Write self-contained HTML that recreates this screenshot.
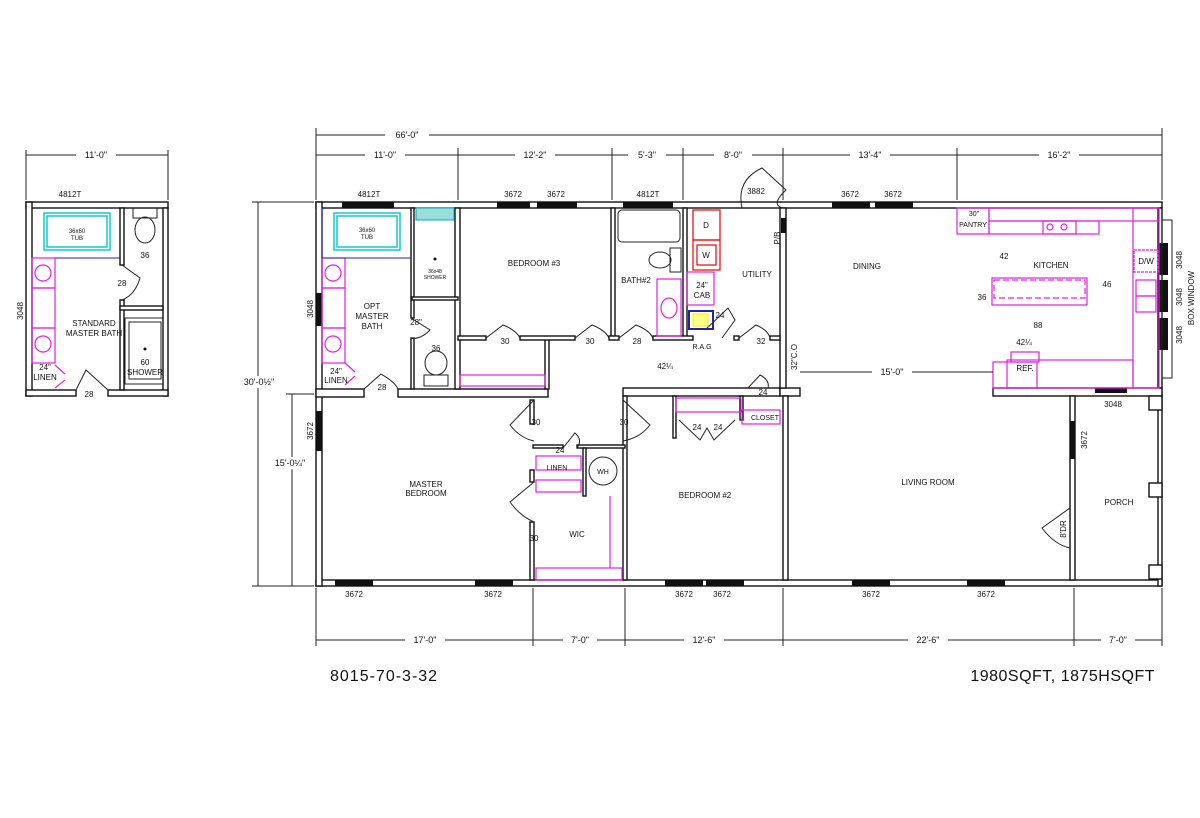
<!DOCTYPE html>
<html><head><style>
body{margin:0;background:#fff}
svg{display:block}
text{font-family:"Liberation Sans",sans-serif;fill:#111}
</style></head><body>
<svg width="1200" height="818" viewBox="0 0 1200 818" xmlns="http://www.w3.org/2000/svg">
<g stroke="#222" stroke-width="1" fill="none">
<line x1="316" y1="135" x2="1162" y2="135"/>
<line x1="316" y1="155" x2="1162" y2="155"/>
<line x1="316" y1="128" x2="316" y2="200"/><line x1="1162" y1="128" x2="1162" y2="200"/>
<line x1="458" y1="148" x2="458" y2="200"/><line x1="612" y1="148" x2="612" y2="200"/>
<line x1="683" y1="148" x2="683" y2="200"/><line x1="783" y1="148" x2="783" y2="200"/>
<line x1="957" y1="148" x2="957" y2="200"/>
<line x1="316" y1="640" x2="1162" y2="640"/>
<line x1="316" y1="588" x2="316" y2="646"/><line x1="533" y1="588" x2="533" y2="646"/>
<line x1="625" y1="588" x2="625" y2="646"/><line x1="783" y1="588" x2="783" y2="646"/>
<line x1="1074" y1="588" x2="1074" y2="646"/><line x1="1162" y1="588" x2="1162" y2="646"/>
<line x1="258" y1="202" x2="258" y2="586"/><line x1="252" y1="202" x2="314" y2="202"/><line x1="252" y1="586" x2="314" y2="586"/>
<line x1="292" y1="394" x2="292" y2="586"/><line x1="286" y1="394" x2="314" y2="394"/>
<line x1="26" y1="155" x2="168" y2="155"/><line x1="26" y1="150" x2="26" y2="200"/><line x1="168" y1="150" x2="168" y2="200"/>
</g>
<g fill="#111" font-size="9" text-anchor="middle">
<rect x="385" y="130" width="44" height="10" fill="#fff"/><text x="407" y="138">66'-0"</text>
<rect x="365" y="150" width="40" height="10" fill="#fff"/><text x="385" y="158">11'-0"</text>
<rect x="515" y="150" width="40" height="10" fill="#fff"/><text x="535" y="158">12'-2"</text>
<rect x="628" y="150" width="38" height="10" fill="#fff"/><text x="647" y="158">5'-3"</text>
<rect x="714" y="150" width="38" height="10" fill="#fff"/><text x="733" y="158">8'-0"</text>
<rect x="850" y="150" width="40" height="10" fill="#fff"/><text x="870" y="158">13'-4"</text>
<rect x="1039" y="150" width="40" height="10" fill="#fff"/><text x="1059" y="158">16'-2"</text>
<rect x="405" y="635" width="40" height="10" fill="#fff"/><text x="425" y="643">17'-0"</text>
<rect x="563" y="635" width="34" height="10" fill="#fff"/><text x="580" y="643">7'-0"</text>
<rect x="684" y="635" width="40" height="10" fill="#fff"/><text x="704" y="643">12'-6"</text>
<rect x="908" y="635" width="40" height="10" fill="#fff"/><text x="928" y="643">22'-6"</text>
<rect x="1101" y="635" width="34" height="10" fill="#fff"/><text x="1118" y="643">7'-0"</text>
<rect x="76" y="150" width="40" height="10" fill="#fff"/><text x="96" y="158">11'-0"</text>
<rect x="232" y="376" width="54" height="12" fill="#fff"/><text x="259" y="385">30'-0½"</text>
<rect x="268" y="457" width="48" height="12" fill="#fff"/><text x="290" y="466">15'-0¼"</text>
</g>

<g fill="#fff" stroke="#111" stroke-width="1.4">
<rect x="316" y="202" width="846" height="6"/>
<rect x="316" y="580" width="846" height="6"/>
<rect x="316" y="202" width="6" height="384"/>
<rect x="1158" y="208" width="4" height="180"/>
<rect x="1158" y="392" width="4" height="194"/>
<rect x="316" y="389" width="48" height="8"/>
<rect x="398" y="389" width="150" height="8"/>
<rect x="623" y="388" width="157" height="8"/>
<rect x="780" y="388" width="20" height="8"/>
<rect x="993" y="388" width="169" height="8"/>
<rect x="455" y="208" width="5" height="181"/>
<rect x="611" y="208" width="4" height="130"/>
<rect x="683" y="208" width="4" height="130"/>
<rect x="780" y="208" width="6" height="180"/>
<rect x="783" y="396" width="5" height="184"/>
<rect x="1070" y="396" width="5" height="184"/>
<rect x="530" y="400" width="4" height="24"/><rect x="530" y="470" width="4" height="12"/><rect x="530" y="522" width="4" height="58"/>
<rect x="623" y="396" width="4" height="184"/>
<rect x="545" y="338" width="4" height="51"/>
<rect x="458" y="336" width="28" height="4"/><rect x="520" y="336" width="55" height="4"/>
<rect x="609" y="336" width="10" height="4"/>
<rect x="653" y="336" width="40" height="4"/>
<rect x="734" y="336" width="5" height="4"/>
<rect x="770" y="336" width="10" height="4"/>
<rect x="411" y="208" width="3" height="110"/>
<rect x="412" y="297" width="46" height="3"/>
<rect x="411" y="338" width="3" height="51"/>
<rect x="533" y="445" width="30" height="3"/><rect x="577" y="445" width="48" height="3"/>
<rect x="583" y="448" width="3" height="48"/>
<rect x="673" y="396" width="3" height="42"/>
<rect x="740" y="396" width="3" height="24"/>
<rect x="1149" y="396" width="13" height="14"/><rect x="1149" y="483" width="13" height="14"/><rect x="1149" y="565" width="13" height="14"/>
</g>
<g fill="none" stroke="#222" stroke-width="1">
<path d="M364 389 L381 374 Q395 382 398 389"/>
<path d="M486 338 L503 325 Q516 330 520 338"/>
<path d="M575 338 L592 325 Q605 330 609 338"/>
<path d="M619 338 L636 325 Q649 330 653 338"/>
<path d="M739 338 L756 325 Q768 330 770 338"/>
<path d="M534 400 L510 425 Q520 438 534 441"/>
<path d="M623 400 L650 425 Q640 438 623 441"/>
<path d="M534 482 L510 502 Q520 516 534 522"/>
<path d="M563 448 L575 433 Q583 440 577 448"/>
<path d="M679 420 L700 440 L707 428 L714 440 L735 420"/>
<path d="M411 318 L430 330 Q420 340 411 338"/>
<path d="M748 388 L760 375 Q770 380 768 388"/>
<path d="M1070 508 L1042 528 Q1055 545 1070 548"/>
<path d="M742 208 Q736 180 762 168 L786 190 Q770 205 783 208"/>
<path d="M705 330 L728 308 L735 320 L722 338"/>
</g>
<g fill="#111">
<rect x="342" y="202" width="52" height="6"/><rect x="497" y="202" width="33" height="6"/><rect x="537" y="202" width="40" height="6"/>
<rect x="623" y="202" width="50" height="6"/><rect x="832" y="202" width="38" height="6"/><rect x="875" y="202" width="38" height="6"/>
<rect x="335" y="580" width="38" height="6"/><rect x="475" y="580" width="38" height="6"/><rect x="665" y="580" width="38" height="6"/>
<rect x="706" y="580" width="38" height="6"/><rect x="852" y="580" width="38" height="6"/><rect x="967" y="580" width="38" height="6"/>
<rect x="316" y="293" width="6" height="33"/><rect x="316" y="411" width="6" height="40"/>
<rect x="1159" y="243" width="9" height="32"/><rect x="1159" y="280" width="9" height="32"/><rect x="1159" y="318" width="9" height="32"/>
<rect x="1095" y="388" width="32" height="5"/><rect x="1070" y="421" width="5" height="38"/>
<rect x="781" y="218" width="5" height="15"/>
<rect x="50" y="202" width="52" height="6"/><rect x="26" y="295" width="6" height="33"/>
<circle cx="435" cy="259" r="1.5"/><circle cx="145" cy="349" r="1.5"/>
</g>
<rect x="1162" y="220" width="10" height="158" fill="none" stroke="#222"/>
<g fill="none" stroke="#e020e0" stroke-width="1.2">
<rect x="322" y="258" width="23" height="30"/><rect x="322" y="288" width="23" height="40"/><rect x="322" y="328" width="23" height="35"/>
<circle cx="333" cy="273" r="8"/><circle cx="333" cy="344" r="8"/>
<path d="M345 363 L355 372 M345 385 L355 376"/>
<rect x="460" y="375" width="85" height="11"/>
<rect x="657" y="279" width="24" height="57"/><ellipse cx="669" cy="308" rx="8" ry="10"/>
<rect x="687" y="272" width="27" height="33"/>
<rect x="536" y="456" width="45" height="14"/><rect x="536" y="480" width="45" height="12"/>
<rect x="536" y="568" width="86" height="12"/><line x1="610" y1="496" x2="610" y2="568"/>
<rect x="676" y="398" width="65" height="14"/><rect x="742" y="410" width="38" height="14"/>
<rect x="957" y="208" width="32" height="26"/><rect x="989" y="208" width="170" height="13"/>
<rect x="989" y="221" width="110" height="13"/><rect x="1133" y="208" width="26" height="180"/>
<rect x="1043" y="221" width="33" height="13"/>
<circle cx="1050" cy="227" r="3"/><circle cx="1064" cy="227" r="3"/>
<rect x="1134" y="250" width="24" height="22" stroke-dasharray="3 1"/>
<rect x="1136" y="280" width="20" height="16"/><rect x="1136" y="296" width="20" height="16"/>
<rect x="992" y="278" width="95" height="27"/><rect x="994" y="280" width="91" height="18" stroke-dasharray="6 3"/>
<rect x="1007" y="360" width="126" height="28"/><rect x="993" y="362" width="44" height="26"/><rect x="1011" y="352" width="28" height="10"/>
</g>
<g fill="none" stroke="#e00" stroke-width="1.2">
<rect x="693" y="210" width="27" height="30"/><rect x="693" y="240" width="27" height="30"/><rect x="697" y="245" width="19" height="20"/>
</g>
<rect x="689" y="311" width="24" height="18" fill="none" stroke="#22a" stroke-width="2"/><rect x="693" y="314" width="15" height="12" fill="#ff8" stroke="#ee0"/>
<g fill="none" stroke="#1cc" stroke-width="1.5">
<rect x="334" y="213" width="66" height="37"/><rect x="337" y="216" width="60" height="31"/>
<rect x="44" y="213" width="66" height="37"/><rect x="47" y="216" width="60" height="31"/>
</g>
<rect x="416" y="208" width="38" height="12" fill="#9dd" stroke="#1aa"/>
<line x1="322" y1="208" x2="322" y2="258" stroke="#22a"/><line x1="322" y1="258" x2="411" y2="258" stroke="#22a"/>
<line x1="32" y1="208" x2="32" y2="258" stroke="#22a"/><line x1="32" y1="258" x2="120" y2="258" stroke="#22a"/>
<g fill="none" stroke="#222">
<rect x="618" y="210" width="62" height="32" rx="4"/><rect x="670" y="248" width="11" height="24"/><ellipse cx="660" cy="260" rx="11" ry="8"/>
<ellipse cx="436" cy="363" rx="11" ry="12"/><rect x="424" y="375" width="24" height="11"/>
<circle cx="603" cy="471" r="14"/>
<rect x="133" y="208" width="24" height="10"/><ellipse cx="145" cy="230" rx="10" ry="13"/>
<rect x="125" y="318" width="38" height="66"/><rect x="129" y="322" width="32" height="57"/>
</g>
<g fill="#fff" stroke="#111" stroke-width="1.4">
<rect x="26" y="202" width="142" height="6"/>
<rect x="26" y="202" width="6" height="194"/>
<rect x="163" y="208" width="5" height="188"/>
<rect x="26" y="390" width="50" height="6"/><rect x="108" y="390" width="60" height="6"/>
<rect x="120" y="208" width="4" height="57"/><rect x="120" y="300" width="4" height="90"/>
<rect x="120" y="306" width="43" height="4"/>
</g>
<g fill="none" stroke="#e020e0" stroke-width="1.2">
<rect x="32" y="258" width="23" height="30"/><rect x="32" y="288" width="23" height="40"/><rect x="32" y="328" width="23" height="35"/>
<circle cx="43" cy="273" r="8"/><circle cx="43" cy="344" r="8"/><path d="M55 365 L65 374 M55 388 L65 380"/>
</g>
<g fill="none" stroke="#222"><path d="M76 390 L86 370 L108 390"/><path d="M122 265 L140 278 Q135 295 122 300"/></g>

<g font-size="8" text-anchor="middle">
<text x="369" y="197">4812T</text><text x="513" y="197">3672</text><text x="556" y="197">3672</text><text x="648" y="197">4812T</text>
<text x="850" y="197">3672</text><text x="893" y="197">3672</text><text x="756" y="194">3882</text>
<text x="354" y="597">3672</text><text x="493" y="597">3672</text><text x="684" y="597">3672</text><text x="722" y="597">3672</text>
<text x="871" y="597">3672</text><text x="986" y="597">3672</text><text x="1113" y="407">3048</text>
<text x="70" y="197">4812T</text>
<text x="534" y="266">BEDROOM  #3</text><text x="636" y="283">BATH#2</text><text x="757" y="277">UTILITY</text>
<text x="867" y="269">DINING</text><text x="1051" y="268">KITCHEN</text>
<text x="372" y="309">OPT</text><text x="372" y="319">MASTER</text><text x="372" y="329">BATH</text>
<text x="426" y="487">MASTER</text><text x="426" y="496">BEDROOM</text>
<text x="705" y="498">BEDROOM  #2</text><text x="928" y="485">LIVING  ROOM</text><text x="1119" y="505">PORCH</text>
<text x="577" y="537">WIC</text><text x="557" y="470" font-size="7">LINEN</text><text x="603" y="474" font-size="7">WH</text>
<text x="765" y="420" font-size="7">CLOSET</text><text x="974" y="216" font-size="7">30"</text><text x="973" y="227" font-size="7">PANTRY</text>
<text x="702" y="288">24"</text><text x="702" y="298">CAB</text><text x="702" y="349" font-size="7">R.A.G</text>
<text x="706" y="228" fill="#e00">D</text><text x="706" y="258" fill="#e00">W</text>
<text x="1025" y="371" fill="#e020e0">REF.</text><text x="1146" y="264" fill="#e020e0">D/W</text>
<text x="505" y="344">30</text><text x="590" y="344">30</text><text x="637" y="344">28</text><text x="761" y="344">32</text>
<text x="382" y="390">28</text><text x="416" y="325">28"</text><text x="436" y="351">36</text>
<text x="536" y="425">30</text><text x="624" y="425">30</text><text x="534" y="541">30</text><text x="560" y="453">24</text>
<text x="697" y="430">24</text><text x="718" y="430">24</text><text x="763" y="395">24</text><text x="720" y="318">24</text>
<text x="665" y="369">42¼</text><text x="1004" y="259">42</text><text x="982" y="300">36</text><text x="1107" y="287">46</text>
<text x="1038" y="328">88</text><text x="1024" y="345">42¼</text>
<text x="367" y="232" font-size="6" fill="#1cc">36x60</text><text x="367" y="239" font-size="6" fill="#1cc">TUB</text>
<text x="77" y="233" font-size="6" fill="#1cc">36x60</text><text x="77" y="240" font-size="6" fill="#1cc">TUB</text>
<text x="435" y="273" font-size="5">36x48</text><text x="435" y="279" font-size="5">SHOWER</text>
<text x="94" y="326">STANDARD</text><text x="94" y="336">MASTER  BATH</text>
<text x="145" y="365">60</text><text x="145" y="375">SHOWER</text><text x="45" y="370">24"</text><text x="45" y="380">LINEN</text>
<text x="122" y="286">28</text><text x="89" y="397">28</text><text x="145" y="258">36</text>
<text x="336" y="374">24"</text><text x="336" y="383">LINEN</text>
</g>
<g font-size="8" text-anchor="middle">
<text transform="translate(313,309) rotate(-90)">3048</text><text transform="translate(313,431) rotate(-90)">3672</text>
<text transform="translate(23,311) rotate(-90)">3048</text>
<text transform="translate(780,238) rotate(-90)">P/B</text><text transform="translate(1087,440) rotate(-90)">3672</text>
<text transform="translate(1066,529) rotate(-90)">8'DR</text><text transform="translate(797,357) rotate(-90)">32"C.O</text>
<text transform="translate(1182,260) rotate(-90)">3048</text><text transform="translate(1182,297) rotate(-90)">3048</text>
<text transform="translate(1182,335) rotate(-90)">3048</text><text transform="translate(1194,298) rotate(-90)">BOX  WINDOW</text>
</g>
<g stroke="#222"><line x1="800" y1="372" x2="993" y2="372"/></g>
<rect x="872" y="367" width="40" height="10" fill="#fff"/><text x="892" y="375" font-size="9" text-anchor="middle">15'-0"</text>
<text x="330" y="681" font-size="16" letter-spacing="1">8015-70-3-32</text>
<text x="1155" y="681" font-size="16" text-anchor="end" letter-spacing="0.5">1980SQFT,  1875HSQFT</text>
</svg>
</body></html>
